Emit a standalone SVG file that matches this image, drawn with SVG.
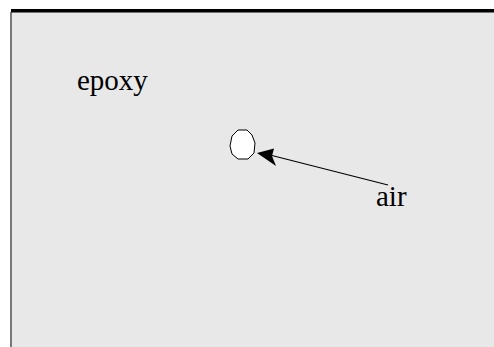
<svg xmlns="http://www.w3.org/2000/svg" width="494" height="347" viewBox="0 0 494 347">
<style>
.lbl{font-family:"Liberation Serif","Times New Roman",serif;font-size:29px;fill:#000}
</style>
<rect width="494" height="347" fill="#fff"/>
<rect x="12" y="12" width="482" height="335" fill="#e8e8e8"/>
<rect x="10" y="12" width="2" height="335" fill="#777"/>
<rect x="11" y="9" width="483" height="3.5" fill="#000"/>
<g id="epoxy"><text class="lbl" x="77" y="90">epoxy</text></g>
<g id="bubble"><polygon points="238,130 247,130 252,135 255,143 254,153 248,159 238,159 232,154 230,146 232,136" fill="#fff" stroke="#000" stroke-width="1"/></g>
<g id="air"><text class="lbl" x="376" y="206">air</text></g>
<g id="connectors">
<line x1="388" y1="185" x2="266" y2="154" stroke="#000" stroke-width="1.2"/>
<path d="M257,153 L274,148.5 L272,156 L276,166 Z" fill="#000"/>
</g>
</svg>
